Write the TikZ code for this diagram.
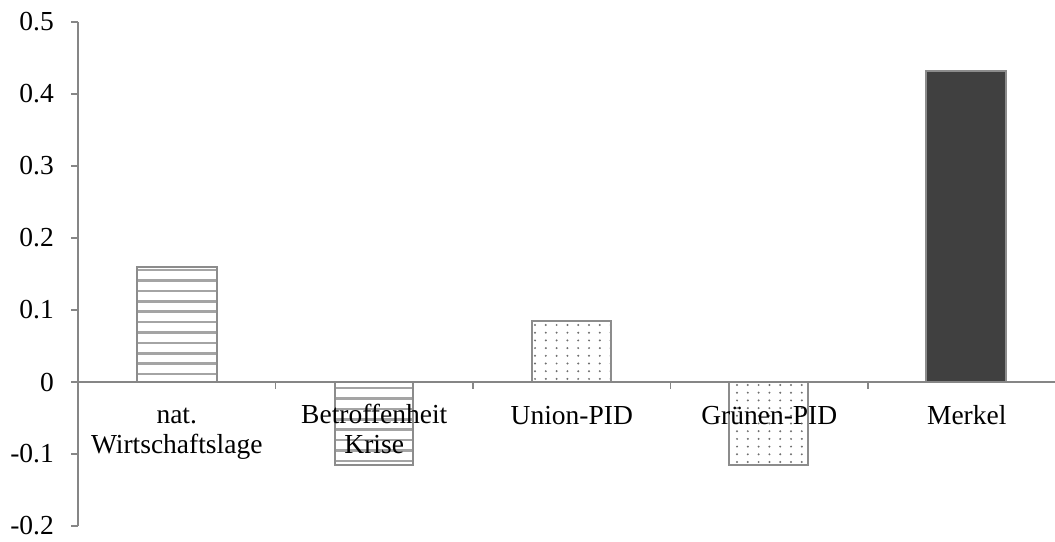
\documentclass[tikz,border=0pt]{standalone}
\usepackage{fontspec}
\setmainfont{Liberation Serif}
\definecolor{axisgray}{HTML}{868686}
\definecolor{bargray}{HTML}{8C8C8C}
\definecolor{stripegray}{HTML}{A4A4A4}
\definecolor{dotgray}{HTML}{6E6E6E}
\definecolor{darkbar}{HTML}{404040}
\begin{document}
\begin{tikzpicture}[x=1pt,y=-1pt,
  axisline/.style={draw=axisgray,line width=1.4pt},
  barframe/.style={draw=bargray,line width=1.6pt},
  ticklabel/.style={anchor=east,inner sep=0pt,font=\fontsize{27.5}{30}\selectfont},
  catlabel/.style={anchor=base,inner sep=0pt,align=center,font=\fontsize{27.5}{29.5}\selectfont}]
\useasboundingbox (0,0) rectangle (1055,541);
% stripes bar 1
\begin{scope}
\clip (137,267) rectangle (217,382);
\foreach \k in {0,...,11} \draw[stripegray,line width=2.6pt] (137,{270+\k*10.4}) -- (217,{270+\k*10.4});
\end{scope}
\draw[barframe] (137,267) rectangle (217,382);
% stripes bar 2
\begin{scope}
\clip (335,382) rectangle (413,465);
\foreach \k in {0,...,8} \draw[stripegray,line width=2.6pt] (335,{388+\k*10.4}) -- (413,{388+\k*10.4});
\end{scope}
\draw[barframe] (335,382) rectangle (413,465);
% dots bar 3
\begin{scope}
\clip (532,321) rectangle (611,382);
\foreach \i in {0,...,7} \foreach \j in {0,...,7}
  \fill[dotgray] ({535+\i*10.8},{325+\j*7.7}) circle (1.1);
\end{scope}
\draw[barframe] (532,321) rectangle (611,382);
% dots bar 4
\begin{scope}
\clip (729,382) rectangle (808,465);
\foreach \i in {0,...,7} \foreach \j in {0,...,10}
  \fill[dotgray] ({737+\i*10.8},{385+\j*7.7}) circle (1.1);
\end{scope}
\draw[barframe] (729,382) rectangle (808,465);
% Merkel
\draw[barframe,fill=darkbar] (926,71) rectangle (1006,382);
% axes
\coordinate (ytop) at (78,22);
\coordinate (ybot) at (78,526);
\coordinate (xl) at (78,382);
\coordinate (xr) at (1055,382);
\draw[axisline] (ytop) -- (ybot);
\draw[axisline] (xl) -- (xr);
\foreach \v/\yy in {0.5/22,0.4/94,0.3/166,0.2/238,0.1/310,0/382,-0.1/454,-0.2/526}{
  \draw[axisline] (71,\yy) -- (78,\yy);
  \node[ticklabel] at (54,\yy) {\v};
}
\foreach \xx in {275.5,473,670.5,868} \draw[axisline] (\xx,382) -- (\xx,389);
% category labels
\node[catlabel] (c1) at (176.75,453) {nat.\\Wirtschaftslage};
\node[catlabel] (c2) at (374.25,453) {Betroffenheit\\Krise};
\node[catlabel] (c3) at (571.75,424) {Union-PID};
\node[catlabel] (c4) at (769.25,424) {Grünen-PID};
\node[catlabel] (c5) at (966.75,424) {Merkel};
\end{tikzpicture}
\end{document}
